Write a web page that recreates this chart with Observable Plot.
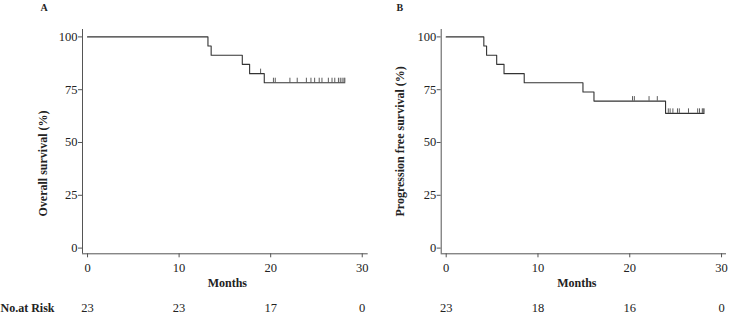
<!DOCTYPE html>
<html>
<head>
<meta charset="utf-8">
<script src="https://cdn.jsdelivr.net/npm/d3@7"></script>
<script src="https://cdn.jsdelivr.net/npm/@observablehq/plot@0.6"></script>
<style>
  html, body { margin: 0; padding: 0; background: #fff; }
  #wrap { position: relative; width: 731px; height: 316px; overflow: hidden; }
  #wrap > div { position: absolute; top: 0; }
</style>
</head>
<body>
<div id="wrap"><div id="pa" style="left:0"></div><div id="pb" style="left:365px"></div></div>
<script>
// ---- Data ----
const xTicks = [0, 10, 20, 30];
const yTicks = [0, 25, 50, 75, 100];
const riskTimes = [0, 10, 20, 30];

// Panel A: Overall survival
const stepTimesA = [0, 13.15, 13.5, 16.9, 17.7, 19.3];
const stepSurvA  = [100, 95.7, 91.3, 87.0, 82.6, 78.3];
const endTimeA = 28.1;
const censorA = [18.9, 20.3, 20.5, 22.1, 22.9, 23.9, 24.4, 24.8, 25.3, 25.6, 26.3, 26.7, 27.0, 27.4, 27.6, 27.8, 28.0, 28.1];
const riskA = [23, 23, 17, 0];

// Panel B: Progression free survival
const stepTimesB = [0, 4.1, 4.4, 5.5, 6.3, 8.5, 14.9, 16.1, 23.9];
const stepSurvB  = [100, 95.7, 91.3, 87.0, 82.6, 78.3, 73.9, 69.6, 63.8];
const endTimeB = 28.1;
const censorB = [20.3, 20.5, 22.1, 23.0, 24.2, 24.4, 24.7, 25.2, 25.4, 26.4, 27.4, 27.6, 27.9, 28.0, 28.1];
const riskB = [23, 18, 16, 0];

const FONT = "'Liberation Serif', 'Times New Roman', serif";
const INK = "#222";
const AXIS = "#555";
const CURVE = "#333";

function survAt(times, surv, t) {
  let s = surv[0];
  for (let i = 0; i < times.length; i++) if (times[i] <= t) s = surv[i];
  return s;
}

function panel(opts) {
  const {letter, yLabel, stepTimes, stepSurv, endTime, censor, risk,
         width, marginLeft, marginRight, xDomain,
         yLabelDx, monthsDx, letterDx} = opts;
  const yDomain = [-2.7, 103.5];
  const marginTop = 29, height = 316, marginBottom = 62.7;
  const curve = stepTimes.map((t, i) => ({t, s: stepSurv[i]}));
  curve.push({t: endTime, s: stepSurv[stepSurv.length - 1]});
  const marks = censor.map(t => ({t, s: survAt(stepTimes, stepSurv, t)}));
  const frameMidY = (marginTop + (height - marginBottom)) / 2;
  return Plot.plot({
    width, height, marginLeft, marginRight, marginTop, marginBottom,
    x: {domain: xDomain},
    y: {domain: yDomain},
    style: {fontFamily: FONT, fontSize: "12.5px", color: INK, background: "transparent", overflow: "visible"},
    marks: [
      Plot.ruleX([xDomain[0]], {y1: yDomain[0], y2: yDomain[1], stroke: AXIS}),
      Plot.ruleY([yDomain[0]], {x1: xDomain[0], x2: xDomain[1], stroke: AXIS}),
      Plot.axisX({ticks: xTicks, tickSize: 4, tickPadding: 5, label: null, stroke: AXIS, fontSize: 12.5}),
      Plot.axisY({ticks: yTicks, tickSize: 4, tickPadding: 1, label: null, stroke: AXIS, fontSize: 12.5}),
      Plot.line(curve, {x: "t", y: "s", curve: "step-after", stroke: CURVE, strokeWidth: 1.1}),
      Plot.ruleX(marks, {x: "t", y1: "s", y2: "s", insetTop: -4.5, stroke: CURVE, strokeWidth: 0.8}),
      Plot.text([yLabel], {frameAnchor: "left", dx: yLabelDx, dy: 216 - frameMidY, rotate: -90,
        textAnchor: "start", fontWeight: "bold", fontSize: 12, fill: INK}),
      Plot.text(["Months"], {frameAnchor: "bottom", dx: monthsDx, dy: 33, fontWeight: "bold", fontSize: 12, fill: INK}),
      Plot.text(riskTimes, {x: d => d, text: (d, i) => String(risk[i]), frameAnchor: "bottom",
        lineAnchor: "bottom", dy: 58.5, fontSize: 12.5, fill: INK}),
      ...(letter === "A" ? [Plot.text(["No.at Risk"], {frameAnchor: "bottom-left", dx: -marginLeft, dy: 58.5,
        lineAnchor: "bottom", textAnchor: "start", fontWeight: "bold", fontSize: 12, fill: INK})] : []),
      Plot.text([letter], {frameAnchor: "top-left", dx: letterDx, dy: -26, textAnchor: "start",
        fontWeight: "bold", fontSize: 10, fill: INK})
    ]
  });
}

document.getElementById("pa").appendChild(panel({
  letter: "A", yLabel: "Overall survival (%)",
  stepTimes: stepTimesA, stepSurv: stepSurvA, endTime: endTimeA, censor: censorA, risk: riskA,
  width: 370, marginLeft: 82, marginRight: 2.3, xDomain: [-0.55, 30.65],
  yLabelDx: -39, monthsDx: 2, letterDx: -42
}));

document.getElementById("pb").appendChild(panel({
  letter: "B", yLabel: "Progression free survival (%)",
  stepTimes: stepTimesB, stepSurv: stepSurvB, endTime: endTimeB, censor: censorB, risk: riskB,
  width: 366, marginLeft: 75.7, marginRight: 5, xDomain: [-0.545, 30.54],
  yLabelDx: -41.4, monthsDx: -7, letterDx: -44.7
}));
</script>
</body>
</html>
